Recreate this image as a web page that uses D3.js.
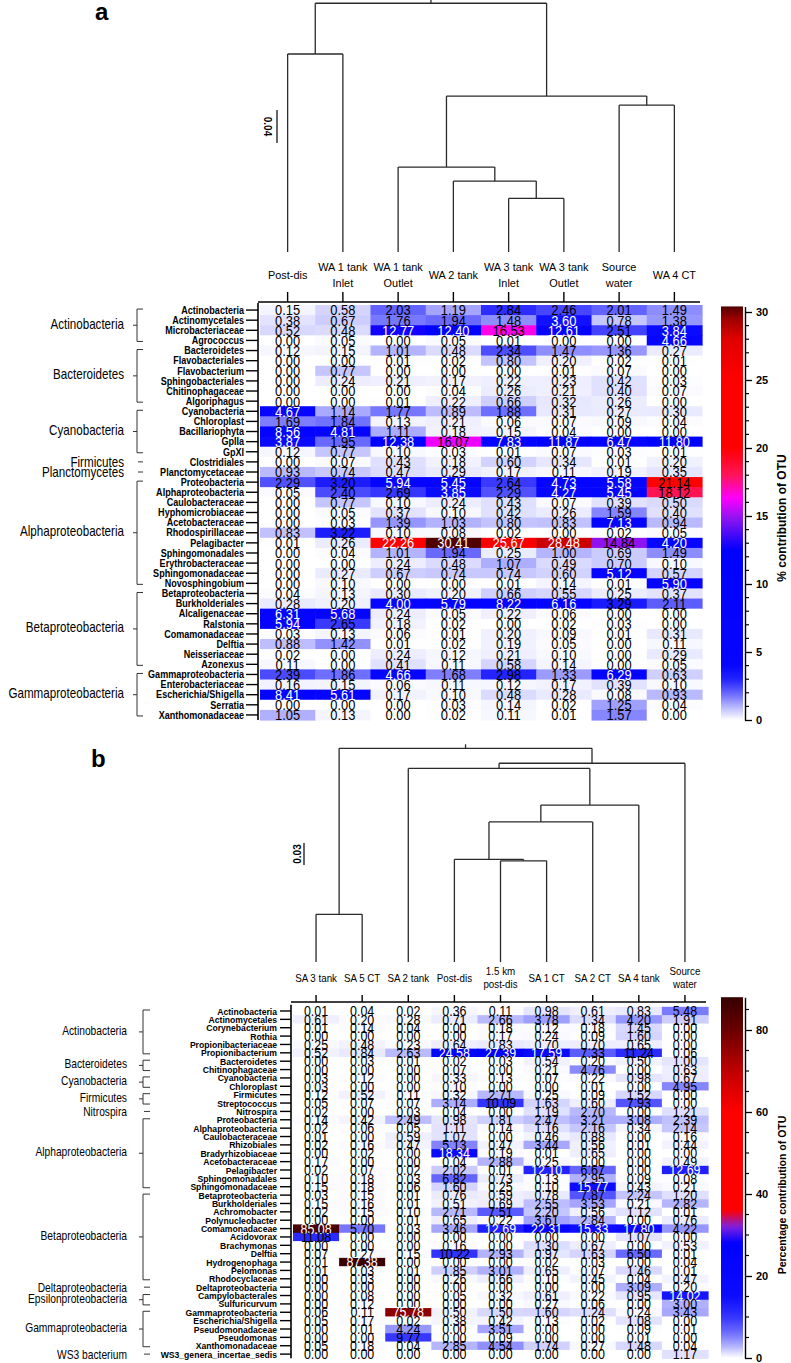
<!DOCTYPE html>
<html><head><meta charset="utf-8">
<script src="https://cdn.jsdelivr.net/npm/d3@7"></script>
<style>
html,body{margin:0;padding:0;background:#fff;}
svg{display:block;}
</style></head><body>
<svg id="chart" width="791" height="1363"></svg>
<script>
// ---------------- DATA: panel a ----------------
const colsA = ["Post-dis", "WA 1 tank|Inlet", "WA 1 tank|Outlet", "WA 2 tank", "WA 3 tank|Inlet", "WA 3 tank|Outlet", "Source|water", "WA 4 CT"];
const rowsA = ["Actinobacteria","Actinomycetales","Microbacteriaceae","Agrococcus","Bacteroidetes","Flavobacteriales","Flavobacterium","Sphingobacteriales","Chitinophagaceae","Algoriphagus","Cyanobacteria","Chloroplast","Bacillariophyta","GpIIa","GpXI","Clostridiales","Planctomycetaceae","Proteobacteria","Alphaproteobacteria","Caulobacteraceae","Hyphomicrobiaceae","Acetobacteraceae","Rhodospirillaceae","Pelagibacter","Sphingomonadales","Erythrobacteraceae","Sphingomonadaceae","Novosphingobium","Betaproteobacteria","Burkholderiales","Alcaligenaceae","Ralstonia","Comamonadaceae","Delftia","Neisseriaceae","Azonexus","Gammaproteobacteria","Enterobacteriaceae","Escherichia/Shigella","Serratia","Xanthomonadaceae"];
const groupsA = [["Actinobacteria",0,3],["Bacteroidetes",4,9],["Cyanobacteria",10,14],["Firmicutes",15,15],["Planctomycetes",16,16],["Alphaproteobacteria",17,27],["Betaproteobacteria",28,35],["Gammaproteobacteria",36,40]];
const valuesA = [
[0.15,0.58,2.03,1.19,2.84,2.46,2.01,1.49],
[0.38,0.67,1.76,1.94,1.48,3.60,0.78,1.38],
[0.52,0.48,12.77,12.40,16.53,12.61,2.51,3.84],
[0.00,0.05,0.00,0.05,0.01,0.00,0.00,4.66],
[0.12,0.15,1.01,0.48,2.34,1.47,1.36,0.27],
[0.00,0.00,0.01,0.02,0.80,0.20,0.02,0.01],
[0.00,0.77,0.00,0.00,0.00,0.01,0.07,0.00],
[0.00,0.24,0.21,0.17,0.22,0.23,0.42,0.03],
[0.00,0.00,0.00,0.04,0.26,0.21,0.40,0.07],
[0.00,0.00,0.01,0.22,0.66,0.32,0.26,0.00],
[4.67,1.14,1.77,0.89,1.88,0.31,0.27,0.30],
[1.69,1.84,0.13,0.21,0.06,0.07,0.09,0.04],
[8.56,4.81,1.11,0.18,0.15,0.04,0.00,0.00],
[3.87,1.95,12.38,16.07,7.83,11.87,6.47,11.80],
[0.12,0.77,0.10,0.03,0.01,0.07,0.03,0.01],
[0.00,0.07,0.43,0.18,0.60,0.34,0.01,0.20],
[0.93,0.74,0.47,0.29,0.17,0.11,0.19,0.35],
[2.29,3.20,5.94,5.45,2.64,4.73,5.58,21.14],
[0.05,2.40,2.69,3.85,2.29,4.27,5.45,18.12],
[0.00,0.77,0.10,0.24,0.43,0.07,0.39,0.50],
[0.00,0.05,0.37,0.10,0.42,0.26,1.59,0.40],
[0.00,0.03,1.39,1.03,0.80,0.83,7.13,0.94],
[0.83,3.22,0.10,0.08,0.02,0.00,0.02,0.05],
[0.01,0.26,22.26,30.41,25.67,28.48,14.84,4.20],
[0.00,0.04,1.01,1.94,0.25,1.00,0.69,1.49],
[0.00,0.00,0.24,0.48,1.07,0.49,0.70,0.10],
[0.00,0.27,0.67,0.74,0.74,0.60,5.12,0.57],
[0.00,0.10,0.00,0.00,0.01,0.14,0.01,5.90],
[0.04,0.13,0.30,0.20,0.66,0.55,0.25,0.37],
[0.28,0.20,4.00,5.79,8.22,6.16,3.29,2.11],
[6.31,5.68,0.24,0.05,0.22,0.06,0.00,0.00],
[5.94,2.65,0.18,0.02,0.00,0.02,0.03,0.00],
[0.03,0.13,0.06,0.01,0.20,0.09,0.01,0.31],
[0.88,1.42,0.01,0.02,0.19,0.05,0.00,0.11],
[0.02,0.00,0.24,0.12,0.21,0.10,0.00,0.29],
[0.11,0.00,0.41,0.11,0.58,0.14,0.00,0.05],
[2.39,1.86,4.66,1.68,2.98,1.33,6.29,0.63],
[0.16,0.15,0.06,0.11,0.12,0.17,0.39,0.10],
[8.41,5.61,0.17,0.10,0.48,0.28,0.08,0.93],
[0.00,0.00,0.00,0.03,0.14,0.02,1.25,0.04],
[1.05,0.13,0.00,0.02,0.11,0.01,1.57,0.00]];
// dendrogram: leaves are column indices, h = merge distance
const treeA = {h:0.3015, c:[{h:0.240, c:[0,1]}, {h:0.189, c:[{h:0.103, c:[2,{h:0.086, c:[3,{h:0.065, c:[4,5]}]}]}, {h:0.178, c:[6,7]}]}]};
const scaleBarA = 0.04;
const legendTicksA = [0,5,10,15,20,25,30];
const legendMaxA = 30.41;
const legendTitleA = "% contribution of OTU";

// ---------------- DATA: panel b ----------------
const colsB = ["SA 3 tank","SA 5 CT","SA 2 tank","Post-dis","1.5 km|post-dis","SA 1 CT","SA 2 CT","SA 4 tank","Source|water"];
const rowsB = ["Actinobacteria","Actinomycetales","Corynebacterium","Rothia","Propionibacteriaceae","Propionibacterium","Bacteroidetes","Chitinophagaceae","Cyanobacteria","Chloroplast","Firmicutes","Streptococcus","Nitrospira","Proteobacteria","Alphaproteobacteria","Caulobacteraceae","Rhizobiales","Bradyrhizobiaceae","Acetobacteraceae","Pelagibacter","Sphingomonadales","Sphingomonadaceae","Betaproteobacteria","Burkholderiales","Achromobacter","Polynucleobacter","Comamonadaceae","Acidovorax","Brachymonas","Delftia","Hydrogenophaga","Pelomonas","Rhodocyclaceae","Deltaproteobacteria","Campylobacterales","Sulfuricurvum","Gammaproteobacteria","Escherichia/Shigella","Pseudomonadaceae","Pseudomonas","Xanthomonadaceae","WS3_genera_incertae_sedis"];
const groupsB = [["Actinobacteria",0,5],["Bacteroidetes",6,7],["Cyanobacteria",8,9],["Firmicutes",10,11],["Nitrospira",12,12],["Alphaproteobacteria",13,21],["Betaproteobacteria",22,32],["Deltaproteobacteria",33,33],["Epsilonproteobacteria",34,35],["Gammaproteobacteria",36,40],["WS3 bacterium",41,41]];
const valuesB = [
[0.01,0.04,0.02,0.36,0.11,0.98,0.61,0.83,5.48],
[0.61,0.20,0.28,0.71,2.66,3.78,1.34,4.20,1.91],
[0.01,0.14,0.04,0.00,0.18,0.12,0.18,1.45,0.00],
[0.00,0.00,0.00,0.00,0.17,0.24,0.09,1.60,0.00],
[0.25,0.48,0.23,0.64,0.83,0.70,0.70,0.65,0.00],
[0.52,0.84,2.63,24.58,27.39,17.59,7.33,11.24,0.06],
[0.00,0.03,0.01,0.02,0.03,0.54,0.20,0.50,1.00],
[0.00,0.00,0.00,0.07,0.00,0.21,4.76,0.00,0.63],
[0.03,0.12,0.00,0.33,0.13,0.07,0.22,0.98,0.67],
[0.03,0.00,0.00,0.10,0.00,0.00,0.01,0.00,4.95],
[0.12,0.52,0.11,0.32,2.71,0.25,0.09,1.52,0.00],
[0.05,0.07,0.07,3.14,10.09,1.63,0.60,7.93,0.00],
[0.02,0.00,0.03,0.04,0.00,1.19,2.70,0.00,1.21],
[0.14,0.42,2.49,0.98,1.81,2.47,3.21,3.08,2.39],
[0.02,0.06,0.05,1.11,0.14,1.16,2.16,0.34,2.14],
[0.01,0.00,0.59,1.07,0.00,0.46,0.88,0.00,0.16],
[0.02,0.16,0.47,5.13,0.47,3.44,0.56,0.01,0.44],
[0.00,0.02,0.00,18.34,0.19,0.01,0.65,0.00,0.00],
[0.17,0.00,0.00,0.04,2.88,0.25,0.00,0.00,0.49],
[0.02,0.07,0.02,2.02,0.01,12.10,6.67,0.00,12.69],
[0.10,0.18,0.03,6.82,0.73,0.13,2.95,0.09,0.08],
[0.15,0.18,0.06,1.60,0.25,0.10,15.77,0.43,0.21],
[0.03,0.15,0.01,0.76,0.59,0.78,7.87,2.24,1.20],
[0.15,0.16,0.01,0.51,0.69,2.55,3.53,0.21,2.82],
[0.02,0.15,0.10,2.71,7.51,2.20,0.56,1.12,0.01],
[0.00,0.00,0.01,0.65,0.22,3.61,2.84,0.00,0.76],
[85.08,5.70,0.03,3.46,12.69,22.31,15.33,17.80,4.22],
[11.08,0.00,0.00,0.00,0.00,0.00,0.00,1.07,0.00],
[0.00,0.00,0.00,0.16,0.00,1.30,0.67,0.00,0.53],
[0.07,0.27,0.15,10.22,2.93,0.97,1.63,6.50,0.01],
[0.01,87.38,0.00,0.00,0.00,0.02,0.03,0.00,0.04],
[0.01,0.03,0.01,1.85,3.01,0.65,0.07,1.46,0.01],
[0.00,0.03,0.00,0.26,0.66,0.10,0.45,0.04,0.47],
[0.00,0.00,0.00,0.00,0.00,0.00,0.00,3.09,0.20],
[0.00,0.08,0.00,0.05,0.32,0.61,0.22,0.95,14.02],
[0.00,0.12,0.00,0.00,0.00,0.27,0.06,0.00,3.00],
[0.06,0.11,75.78,0.50,1.50,1.60,1.24,0.24,3.43],
[0.05,0.17,0.02,0.38,0.42,0.13,0.02,1.08,0.00],
[0.00,0.01,4.24,0.00,3.51,0.00,0.00,0.09,0.01],
[0.00,0.00,9.77,0.00,0.09,0.00,0.00,0.01,0.00],
[0.05,0.18,0.04,2.85,4.54,1.74,0.27,1.48,0.04],
[0.00,0.00,0.00,0.00,0.00,0.00,0.00,0.00,1.17]];
const treeB = {h:0.2914, c:[{h:0.065, c:[0,1]}, {h:0.271, c:[{h:0.264, c:[2,{h:0.214, c:[{h:0.191, c:[{h:0.140, c:[3,{h:0.138, c:[4,5]}]},6]},7]}]},8]}]};
const scaleBarB = 0.03;
const legendTicksB = [0,20,40,60,80];
const legendMaxB = 88;
const legendTitleB = "Percentage contribution of OTU";

// ---------------- STYLE / LAYOUT ----------------
const SANS = '"Liberation Sans", Arial, sans-serif';
const svg = d3.select("#chart");

const layoutA = {
  cols: colsA, rows: rowsA, groups: groupsA, values: valuesA, tree: treeA,
  hx0:260, hx1:702, hy0:305, hy1:720,
  rowLabelX:244, rowTickX0:246, axisX:258,
  rowFont:10.4, rowSx:0.87, groupFont:14, groupSx:0.83,
  numFont:15, numSx:0.86,
  headTickY:292, headAxisY:302, headY1:267, headY2:283, headYs:275, headFont:11.5, headSx:0.95,
  leafY:252, scaleBar: scaleBarA, scaleBarPx:33, scaleBarX:277, scaleBarY0:110, scaleTextX:268,
  scaleRot: 90,
  groupRight:124, brX:137, brSerif:6, brDash:4,
  cDomain:[0,1,2,3,4,12.5,14.8,16.3,18,20,25,28,29.5,30.41],
  cRange:['#ffffff','#b4b4ff','#6464ff','#2222ff','#0606ff','#0000ff','#8c14f0','#ff00ff','#ff1458','#ff0000','#ff0000','#e00000','#a00000','#500000'],
  white: v => (v>=3.5 && v<14) || v>=22,
  lgX0:721, lgX1:743, lgMax: legendMaxA, lgBottom:720, lgPxPerUnit:13.6,
  lgTicks: legendTicksA, lgMinorStep:1, lgTitle: legendTitleA, lgTitleX:782, lgTitleY:518, lgTitleFont:12,
  letter:"a", letterX:95, letterY:20
};
const layoutB = {
  cols: colsB, rows: rowsB, groups: groupsB, values: valuesB, tree: treeB,
  hx0:293, hx1:708, hy0:1006.8, hy1:1358.3,
  rowLabelX:277, rowTickX0:280, axisX:291,
  rowFont:9.8, rowSx:0.88, groupFont:12.2, groupSx:0.84,
  numFont:14.5, numSx:0.86,
  headTickY:995, headAxisY:1002, headY1:971, headY2:984, headYs:978, headFont:10.5, headSx:0.93,
  leafY:962, scaleBar: scaleBarB, scaleBarPx:22, scaleBarX:304, scaleBarY0:843, scaleTextX:297,
  scaleRot: -90,
  groupRight:127, brX:143, brSerif:7, brDash:4,
  cDomain:[0,3,6,10,15,28,32,36,60,70,80,88],
  cRange:['#ffffff','#b0b0ff','#7070ff','#3434ff','#0c0cff','#0000ff','#8020e0','#ff0000','#ff0000','#c00000','#6a0000','#360000'],
  white: v => (v>=11.5 && v<32) || v>=70,
  lgX0:721, lgX1:743, lgMax: legendMaxB, lgBottom:1358, lgPxPerUnit:4.1,
  lgTicks: legendTicksB, lgMinorStep:5, lgTitle: legendTitleB, lgTitleX:782, lgTitleY:1195, lgTitleFont:10.5,
  letter:"b", letterX:91, letterY:767
};

// text placed at (x,y) and condensed horizontally by sx
function placeNarrow(sel, fx, fy, sx){
  sel.attr("transform", (d,i)=>`translate(${fx(d,i)},${fy(d,i)}) scale(${sx},1)`).attr("x",0).attr("y",0);
}

function drawPanel(p, idx){
  const g = svg.append("g");
  const nC = p.cols.length, nR = p.rows.length;
  const x = d3.scaleBand().domain(d3.range(nC)).range([p.hx0, p.hx1]);
  const y = d3.scaleBand().domain(d3.range(nR)).range([p.hy0, p.hy1]);
  const cx = j => x(j) + x.bandwidth()/2;
  const cy = i => y(i) + y.bandwidth()/2;
  const color = d3.scaleLinear().domain(p.cDomain).range(p.cRange).clamp(true);

  const cells = [];
  p.values.forEach((row,i)=>row.forEach((v,j)=>cells.push({i,j,v})));

  // cells
  g.append("g").selectAll("rect").data(cells).join("rect")
    .attr("x", d=>x(d.j)).attr("y", d=>y(d.i))
    .attr("width", x.bandwidth()+0.6).attr("height", y.bandwidth()+0.6)
    .attr("fill", d=>color(d.v));

  // numbers
  g.append("g").selectAll("text").data(cells).join("text")
    .call(placeNarrow, d=>cx(d.j), d=>cy(d.i), p.numSx)
    .attr("dy", "0.36em").attr("text-anchor","middle")
    .style("font-family", SANS).style("font-size", p.numFont+"px")
    .attr("fill", d=>p.white(d.v) ? "#ffffff" : "#000000")
    .text(d=>d3.format(".2f")(d.v));

  // row axis
  g.append("line").attr("x1",p.axisX).attr("x2",p.axisX).attr("y1",p.hy0-2).attr("y2",p.hy1)
    .attr("stroke","#000").attr("stroke-width",1.6);
  g.append("g").selectAll("line").data(p.rows).join("line")
    .attr("x1",p.rowTickX0).attr("x2",p.axisX).attr("y1",(d,i)=>cy(i)).attr("y2",(d,i)=>cy(i))
    .attr("stroke","#000").attr("stroke-width",1.4);
  g.append("g").selectAll("text").data(p.rows).join("text")
    .call(placeNarrow, ()=>p.rowLabelX, (d,i)=>cy(i), p.rowSx)
    .attr("dy","0.36em")
    .attr("text-anchor","end").style("font-family",SANS).style("font-weight","bold")
    .style("font-size",p.rowFont+"px").text(d=>d);

  // header axis
  g.append("line").attr("x1",p.hx0-2).attr("x2",p.hx1-2).attr("y1",p.headAxisY).attr("y2",p.headAxisY)
    .attr("stroke","#000").attr("stroke-width",1.4);
  g.append("g").selectAll("line").data(p.cols).join("line")
    .attr("x1",(d,j)=>cx(j)).attr("x2",(d,j)=>cx(j)).attr("y1",p.headTickY).attr("y2",p.headAxisY)
    .attr("stroke","#000").attr("stroke-width",1.4);
  const heads = g.append("g").selectAll("g").data(p.cols).join("g")
    .attr("transform",(d,j)=>`translate(${cx(j)},0) scale(${p.headSx},1)`);
  heads.each(function(d){
    const parts = d.split("|");
    const t = d3.select(this).append("text").attr("text-anchor","middle")
      .style("font-family",SANS).style("font-size",p.headFont+"px");
    if(parts.length===1){
      t.append("tspan").attr("x",0).attr("y",p.headYs).attr("dy","0.36em").text(parts[0]);
    } else {
      t.append("tspan").attr("x",0).attr("y",p.headY1).attr("dy","0.36em").text(parts[0]);
      t.append("tspan").attr("x",0).attr("y",p.headY2).attr("dy","0.36em").text(parts[1]);
    }
  });

  // dendrogram
  const dy = d3.scaleLinear().domain([0, p.scaleBar]).range([p.leafY, p.leafY - p.scaleBarPx]);
  const root = d3.hierarchy(p.tree, d => (typeof d === "object" && d.c) ? d.c : null);
  root.eachAfter(n=>{
    if(!n.children){ n.px = cx(n.data); n.py = p.leafY; }
    else { n.px = d3.mean(n.children, c=>c.px); n.py = dy(n.data.h); }
  });
  const dg = g.append("g").attr("fill","none").attr("stroke","#2a2a2a").attr("stroke-width",1.3);
  root.each(n=>{
    if(n.children){
      const xs = n.children.map(c=>c.px);
      dg.append("line").attr("x1",d3.min(xs)).attr("x2",d3.max(xs)).attr("y1",n.py).attr("y2",n.py);
      n.children.forEach(c=>{
        dg.append("line").attr("x1",c.px).attr("x2",c.px).attr("y1",c.py).attr("y2",n.py);
      });
    }
  });
  dg.append("line").attr("x1",root.px).attr("x2",root.px).attr("y1",root.py).attr("y2",root.py-4);
  // scale bar
  const sb0 = p.scaleBarY0, sb1 = p.scaleBarY0 + (dy(0)-dy(p.scaleBar));
  g.append("line").attr("x1",p.scaleBarX).attr("x2",p.scaleBarX).attr("y1",sb0).attr("y2",sb1)
    .attr("stroke","#000").attr("stroke-width",1.2);
  g.append("text").attr("transform",`translate(${p.scaleTextX},${(sb0+sb1)/2}) rotate(${p.scaleRot})`)
    .attr("text-anchor","middle").attr("dy","0.36em")
    .style("font-family",SANS).style("font-size","10px").style("font-weight","bold").text(d3.format(".2f")(p.scaleBar));

  // groups
  const gg = g.append("g");
  p.groups.forEach(([name,a,b])=>{
    const yA = cy(a), yB = cy(b), mid = (yA+yB)/2;
    const ln = (x1,y1,x2,y2)=>gg.append("line").attr("x1",x1).attr("y1",y1).attr("x2",x2).attr("y2",y2)
      .attr("stroke","#333").attr("stroke-width",1);
    if(a===b){
      ln(p.brX+1, yA, p.brX+p.brSerif, yA);
    } else {
      ln(p.brX, yA-1, p.brX, yB+1);
      ln(p.brX, yA-1, p.brX+p.brSerif, yA-1);
      ln(p.brX, yB+1, p.brX+p.brSerif, yB+1);
      ln(p.brX-p.brDash, mid, p.brX, mid);
    }
    gg.append("text")
      .attr("transform",`translate(${p.groupRight},${a===b?yA:mid-1.5}) scale(${p.groupSx},1)`)
      .attr("dy","0.36em")
      .attr("text-anchor","end").style("font-family",SANS).style("font-size",p.groupFont+"px").text(name);
  });

  // legend
  const ly = d3.scaleLinear().domain([0,p.lgMax]).range([p.lgBottom, p.lgBottom - p.lgMax*p.lgPxPerUnit]);
  const gradId = "grad"+idx;
  const grad = svg.append("defs").append("linearGradient").attr("id",gradId)
    .attr("x1",0).attr("y1",1).attr("x2",0).attr("y2",0);
  d3.range(0,101).forEach(k=>{
    const v = p.lgMax*k/100;
    grad.append("stop").attr("offset",k+"%").attr("stop-color",color(v));
  });
  g.append("rect").attr("x",p.lgX0).attr("y",ly(p.lgMax)).attr("width",p.lgX1-p.lgX0)
    .attr("height",ly(0)-ly(p.lgMax)).attr("fill",`url(#${gradId})`);
  const ax = g.append("g").attr("transform",`translate(${p.lgX1+2},0)`)
    .call(d3.axisRight(ly).tickValues(p.lgTicks).tickSize(7).tickSizeOuter(0).tickPadding(4).tickFormat(d3.format("d")));
  ax.select(".domain").attr("stroke-width",1.4);
  ax.selectAll(".tick line").attr("stroke-width",1.3);
  ax.selectAll("text").style("font-family",SANS).style("font-weight","bold").style("font-size","11px");
  const minors = d3.range(0, p.lgMax+0.001, p.lgMinorStep).filter(v=>!p.lgTicks.includes(v));
  ax.append("g").selectAll("line").data(minors).join("line")
    .attr("x1",0).attr("x2",4).attr("y1",d=>ly(d)).attr("y2",d=>ly(d)).attr("stroke","#000").attr("stroke-width",1.2);
  g.append("text").attr("transform",`translate(${p.lgTitleX},${p.lgTitleY}) rotate(-90)`)
    .attr("text-anchor","middle").attr("dy","0.36em")
    .style("font-family",SANS).style("font-weight","bold").style("font-size",p.lgTitleFont+"px").text(p.lgTitle);

  // panel letter
  g.append("text").attr("x",p.letterX).attr("y",p.letterY)
    .style("font-family",SANS).style("font-weight","bold").style("font-size","24px").text(p.letter);
}

drawPanel(layoutA, 0);
drawPanel(layoutB, 1);
</script>
</body></html>
